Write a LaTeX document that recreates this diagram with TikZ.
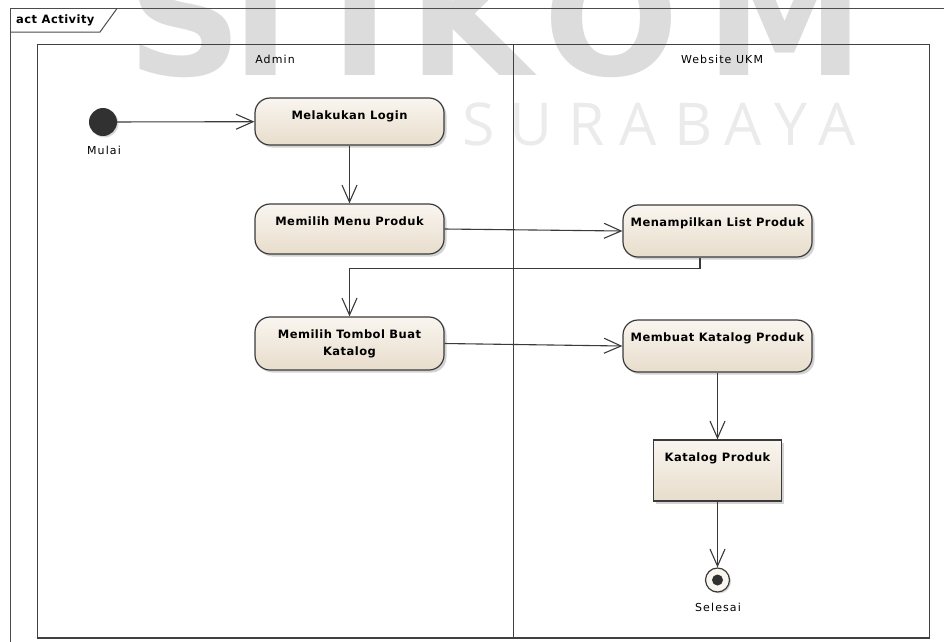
\documentclass[tikz,border=0pt]{standalone}
\usepackage{fontspec}
\setmainfont{DejaVu Sans}
\newfontfamily\wmfont{Open Sans}
\usetikzlibrary{arrows.meta,shadows}
\definecolor{edge}{HTML}{3A3A3A}
\definecolor{laneline}{HTML}{404040}
\definecolor{fillA}{HTML}{F9F5EF}
\definecolor{fillB}{HTML}{E8DDCC}
\definecolor{wmgray}{HTML}{DCDCDC}
\definecolor{wmlight}{HTML}{EBEBEB}
\tikzset{
  boldtxt/.style={font={\fontsize{11.5}{17}\selectfont\bfseries\addfontfeature{LetterSpace=4}}},
  regtxt/.style={font={\fontsize{11}{13}\selectfont\addfontfeature{LetterSpace=10}}},
  actbox/.style={draw=edge, line width=1.2pt, rounded corners=15pt,
    top color=fillA, bottom color=fillB, minimum width=189pt, inner sep=0pt,
    drop shadow={shadow xshift=2.5pt, shadow yshift=-2.5pt, opacity=0.35}},
  objbox/.style={draw=edge, line width=1.2pt, top color=fillA, bottom color=fillB,
    minimum width=128pt, minimum height=61pt, inner sep=0pt,
    drop shadow={shadow xshift=2.5pt, shadow yshift=-2.5pt, opacity=0.35}},
  acttext/.style={boldtxt, anchor=north, yshift=-13.5pt, inner sep=0pt, align=center, text=black},
  startnode/.style={circle, fill=edge!85!black, minimum size=28pt, inner sep=0pt,
    drop shadow={shadow xshift=1.5pt, shadow yshift=-1.5pt, opacity=0.3}},
  endnode/.style={circle, draw=edge, line width=1.2pt, fill=fillA, minimum size=24pt, inner sep=0pt,
    drop shadow={shadow xshift=1.5pt, shadow yshift=-1.5pt, opacity=0.3}},
  flow/.style={draw=edge, line width=1.1pt, -{Straight Barb[length=17pt,width=15pt,line width=1.1pt]}},
  frame/.style={draw=black!70, line width=1pt},
  lane/.style={draw=laneline, line width=1pt},
  wmbig/.style={anchor=base, inner sep=0pt, text=wmgray, font={\fontsize{160}{170}\selectfont\bfseries}},
  wmsmall/.style={anchor=base, inner sep=0pt, text=wmlight, font={\wmfont\fontsize{59}{60}\selectfont}},
}
\begin{document}
\begin{tikzpicture}[x=1pt,y=-1pt]
\useasboundingbox (0,0) rectangle (944,641);
\clip (0,0) rectangle (944,641);
% watermark
\foreach \ch/\xx [count=\i] in {S/185,T/261,I/360,K/470,O/611,M/785}
  \node[wmbig] (wmb\i) at (\xx,75) {\ch};
\foreach \ch/\xx [count=\i] in {S/479,U/531,R/587,A/638,B/694,A/743,Y/791,A/837}
  \node[wmsmall] (wm\i) at (\xx,145) {\ch};
% frame
\draw[frame] (10,8.5) rectangle (990,700);
\draw[frame] (10,32) -- (100,32) -- (117,8.5);
\node[boldtxt, anchor=west, inner sep=0pt] (title) at (16,20) {act Activity};
% swimlanes
\draw[lane] (37,44) rectangle (929,638);
\draw[lane] (513,44) -- (513,638);
\draw[draw=laneline, line width=2pt] (37,638) -- (929,638);
\node[regtxt] (admin) at (275,59) {Admin};
\node[regtxt] (web) at (722,59) {Website UKM};
% nodes
\node[startnode] (start) at (103,122) {};
\node[regtxt] (mulai) at (104,150) {Mulai};
\node[actbox, minimum height=47pt, label={[acttext]north:Melakukan Login}] (login) at (349.5,121.5) {};
\node[actbox, minimum height=50pt, label={[acttext]north:Memilih Menu Produk}] (menu) at (349.5,229) {};
\node[actbox, minimum height=53pt, label={[acttext]north:Memilih Tombol Buat\\Katalog}] (tombol) at (349.5,343.5) {};
\node[actbox, minimum height=52pt, label={[acttext]north:Menampilkan List Produk}] (list) at (717.5,231) {};
\node[actbox, minimum height=52pt, label={[acttext]north:Membuat Katalog Produk}] (membuat) at (717.5,346) {};
\node[objbox, label={[acttext]north:Katalog Produk}] (katalog) at (717.5,470.5) {};
\node[endnode] (end) at (717.5,580) {};
\fill[edge!85!black] (end.center) circle (5.5pt);
\node[regtxt] (selesai) at (718,607) {Selesai};
% connectors
\draw[flow] (start) -- (login);
\draw[flow] (login) -- (menu);
\draw[flow] (menu.east) -- (list.west);
\draw[flow] ([xshift=-17.5pt]list.south) -- ++(0,11) -| (tombol.north);
\draw[flow] (tombol.east) -- (membuat.west);
\draw[flow] (membuat) -- (katalog);
\draw[flow] (katalog) -- (end);
\end{tikzpicture}
\end{document}
